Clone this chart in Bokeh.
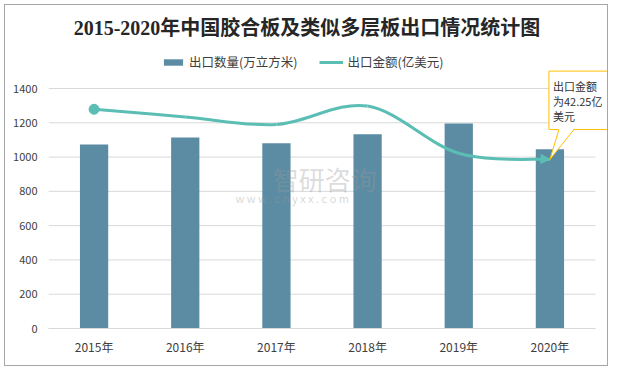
from bokeh.plotting import figure
from bokeh.models import (Range1d, Legend, LegendItem, Label, Arrow,
                          NormalHead, FixedTicker)
from bokeh.embed import file_html
from bokeh.resources import INLINE

# ---- data ----
years = ["2015年", "2016年", "2017年", "2018年", "2019年", "2020年"]
volume = [1073, 1114, 1081, 1133, 1196, 1046]          # 出口数量(万立方米)
amount = [54.8, 52.9, 51.0, 55.6, 43.8, 42.25]          # 出口金额(亿美元)
y_ticks = [0, 200, 400, 600, 800, 1000, 1200, 1400]
title_text = "2015-2020年中国胶合板及类似多层板出口情况统计图"
bar_label = "出口数量(万立方米)"
line_label = "出口金额(亿美元)"
callout_text = "出口金额\n为42.25亿\n美元"

BAR = "#5b8ca4"
TEAL = "#5bbeb4"
CJK = "Noto Sans CJK SC"

W, H = 604, 362
ML, MB = 43, 39
n = len(years)
xs = [i + 0.5 for i in range(n)]                 # category centres
px_cat = 547 / n                                  # pixels per category
frame_w = W - ML
frame_h = H - MB
ymax = y_ticks[-1]
u_px = ymax / 240.0                               # data units per pixel (240 px hold 0..1400)
y_end = frame_h * u_px
amt_end = 60 * frame_h / 240.0

p = figure(title=None, x_range=Range1d(0, frame_w / px_cat), y_range=Range1d(0, y_end),
           width=W, height=H, output_backend="svg", toolbar_location=None,
           min_border_left=ML, min_border_right=0, min_border_top=0,
           min_border_bottom=MB, background_fill_color="white",
           border_fill_color="white",
           styles={"border": "1px solid #a6a6a6", "margin": "4px"})
p.outline_line_color = None
p.extra_y_ranges = {"amt": Range1d(0, amt_end)}

# title (drawn inside the top of the frame)
p.add_layout(Label(x=(306.5 - 48) / px_cat, y=(328 - 27) * u_px, text=title_text,
                   text_font="Liberation Serif, Noto Sans CJK SC", text_font_size="20px",
                   text_font_style="bold", text_color="#262626",
                   text_align="center", text_baseline="middle"))

# axes / grid
p.xgrid.visible = False
p.ygrid.visible = False
p.segment(x0=[0] * len(y_ticks), x1=[n] * len(y_ticks), y0=y_ticks, y1=y_ticks,
          line_color="#d9d9d9", line_width=1, level="underlay")
p.yaxis.ticker = FixedTicker(ticks=y_ticks)
p.yaxis.axis_line_color = None
p.yaxis.major_tick_line_color = None
p.yaxis.minor_tick_line_color = None
p.yaxis.major_tick_out = 0
p.yaxis.major_label_standoff = 11
p.yaxis.major_label_text_font = CJK
p.yaxis.major_label_text_font_size = "11px"
p.yaxis.major_label_text_color = "#404040"
p.xaxis.ticker = FixedTicker(ticks=xs)
p.xaxis.major_label_overrides = {x: y for x, y in zip(xs, years)}
p.xaxis.bounds = (0, n)
p.xaxis.axis_line_color = "#d9d9d9"
p.xaxis.major_tick_line_color = None
p.xaxis.minor_tick_line_color = None
p.xaxis.major_tick_out = 0
p.xaxis.major_label_standoff = 9
p.xaxis.major_label_text_font = CJK
p.xaxis.major_label_text_font_size = "12px"
p.xaxis.major_label_text_color = "#404040"

# watermark
p.add_layout(Label(x=2.46, y=877, text="智研咨询", text_font=CJK,
                   text_font_size="26px", text_color="#9a9a9a", text_alpha=0.35,
                   text_baseline="middle", text_align="left"))
p.add_layout(Label(x=2.05, y=760, text="w w w . c h y x x . c o m", text_font=CJK,
                   text_font_size="11px", text_color="#9a9a9a", text_alpha=0.4,
                   text_baseline="middle", text_align="left"))

# bars
bars = p.vbar(x=xs, top=volume, width=0.31, fill_color=BAR, line_color=None)

# smooth line (Catmull-Rom -> cubic bezier through the data points)
def pt(i):
    i = max(0, min(n - 1, i))
    return xs[i], amount[i]
x0, y0, x1, y1, cx0, cy0, cx1, cy1 = [], [], [], [], [], [], [], []
for i in range(n - 1):
    pa, pb = pt(i - 1), pt(i)
    pc, pd = pt(i + 1), pt(i + 2)
    x0.append(pb[0]); y0.append(pb[1]); x1.append(pc[0]); y1.append(pc[1])
    cx0.append(pb[0] + (pc[0] - pa[0]) / 6); cy0.append(pb[1] + (pc[1] - pa[1]) / 6)
    cx1.append(pc[0] - (pd[0] - pb[0]) / 6); cy1.append(pc[1] - (pd[1] - pb[1]) / 6)
p.bezier(x0=x0, y0=y0, x1=x1, y1=y1, cx0=cx0, cy0=cy0, cx1=cx1, cy1=cy1,
         y_range_name="amt", line_color=TEAL, line_width=3)
p.scatter(x=[xs[0]], y=[amount[0]], y_range_name="amt", size=10,
          fill_color=TEAL, line_color=TEAL)
p.add_layout(Arrow(end=NormalHead(size=9, fill_color=TEAL, line_color=TEAL),
                   x_start=cx1[-1], y_start=cy1[-1], x_end=xs[-1], y_end=amount[-1],
                   y_range_name="amt", line_color=TEAL, line_width=3, line_alpha=0))
legend_line = p.line(x=[xs[0]], y=[amount[0]], y_range_name="amt",
                     line_color=TEAL, line_width=3)

# callout
u_y = 60 / 240.0
p.add_layout(Label(x=xs[-1], y=amount[-1], y_range_name="amt", text=callout_text,
                   x_offset=-1, y_offset=30, anchor="bottom_left",
                   text_font=CJK, text_font_size="11px", text_color="#333333",
                   text_line_height=0.95, padding=(4, 9, 7, 5),
                   background_fill_color="white", border_line_color="#ffc000",
                   border_line_width=1))
tip_x, tip_y = xs[-1], amount[-1]
bx1, bx2 = tip_x + 9 / px_cat, tip_x + 24 / px_cat
p.patch(x=[tip_x, bx1, bx2], y=[tip_y, tip_y + 31 * u_y, tip_y + 31 * u_y],
        y_range_name="amt", fill_color="white", line_color=None, level="overlay")
p.multi_line(xs=[[tip_x, bx1], [tip_x, bx2]],
             ys=[[tip_y, tip_y + 30 * u_y], [tip_y, tip_y + 30 * u_y]],
             y_range_name="amt", line_color="#ffc000", line_width=1, level="overlay")

# legend
legend = Legend(items=[LegendItem(label=bar_label, renderers=[bars]),
                       LegendItem(label=line_label, renderers=[legend_line])],
                orientation="horizontal", location=(113, 257),
                glyph_width=24, glyph_height=8, label_standoff=4, spacing=22,
                padding=0, margin=0, border_line_color=None,
                background_fill_alpha=0, label_text_font=CJK,
                label_text_font_size="12.5px", label_text_color="#404040")
p.add_layout(legend, "center")

open("out.html", "w").write(file_html(p, INLINE))
